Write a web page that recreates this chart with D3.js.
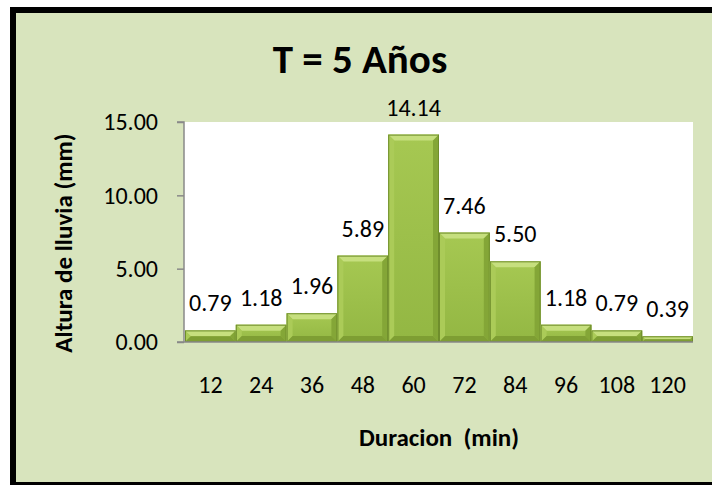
<!DOCTYPE html>
<html><head><meta charset="utf-8">
<script src="https://cdn.jsdelivr.net/npm/d3@7"></script>
<style>
html,body{margin:0;padding:0;background:#fff;}
svg{display:block;font-family:Carlito, Calibri, Lato, sans-serif;}
text{white-space:pre;}
</style></head>
<body>
<svg id="c" width="712" height="485"></svg>
<script>
const categories = ["12","24","36","48","60","72","84","96","108","120"];
const values = [0.79,1.18,1.96,5.89,14.14,7.46,5.50,1.18,0.79,0.39];
const yTicks = [0,5,10,15];
const title = "T = 5 Años";
const xTitle = "Duracion  (min)";
const yTitle = "Altura de lluvia (mm)";

const FONT = "Carlito, Calibri, Lato, sans-serif";
const svg = d3.select("#c");
// chart frame
svg.append("rect").attr("x",10).attr("y",7).attr("width",712).attr("height",478).attr("fill","#d8e4bd");
svg.append("rect").attr("x",13).attr("y",10).attr("width",712).attr("height",475).attr("fill","none").attr("stroke","#000").attr("stroke-width",6);

const plot = {l:184, r:693, t:122, b:342};
svg.append("rect").attr("x",plot.l).attr("y",plot.t).attr("width",plot.r-plot.l).attr("height",plot.b-plot.t).attr("fill","#fff");

const x = d3.scaleBand().domain(categories).range([plot.l+1, plot.r]).padding(0);
const y = d3.scaleLinear().domain([0,15]).range([plot.b, plot.t]);

const defs = svg.append("defs");
const g1 = defs.append("linearGradient").attr("id","face").attr("x1",0).attr("y1",0).attr("x2",0).attr("y2",1);
g1.append("stop").attr("offset","0%").attr("stop-color","#a6c852");
g1.append("stop").attr("offset","100%").attr("stop-color","#93b743");

const bars = svg.append("g");
categories.forEach((c,i)=>{
  const x0 = x(c), w = x.bandwidth(), y0 = y(values[i]), y1 = y(0), h = y1-y0;
  const b = Math.min(6, h/2, w/2);
  const g = bars.append("g");
  g.append("rect").attr("x",x0).attr("y",y0).attr("width",w).attr("height",h).attr("fill","url(#face)");
  g.append("polygon").attr("points",`${x0},${y0} ${x0+w},${y0} ${x0+w-b},${y0+b} ${x0+b},${y0+b}`).attr("fill","#c6df7e");
  g.append("polygon").attr("points",`${x0},${y0} ${x0+b},${y0+b} ${x0+b},${y1-b} ${x0},${y1}`).attr("fill","#abcb58");
  g.append("polygon").attr("points",`${x0+w},${y0} ${x0+w-b},${y0+b} ${x0+w-b},${y1-b} ${x0+w},${y1}`).attr("fill","#84a637");
  g.append("polygon").attr("points",`${x0},${y1} ${x0+b},${y1-b} ${x0+w-b},${y1-b} ${x0+w},${y1}`).attr("fill","#7e9e33");
  g.append("rect").attr("x",x0+0.5).attr("y",y0+0.5).attr("width",w-1).attr("height",h-1).attr("fill","none").attr("stroke","#6f8d2c").attr("stroke-width",1);
  svg.append("text").attr("x",x0+w/2).attr("y",y0-19).attr("text-anchor","middle")
    .attr("font-size",24).attr("fill","#000").text(values[i].toFixed(2));
});

// y axis
const ya = svg.append("g").attr("transform",`translate(${plot.l},0)`)
  .call(d3.axisLeft(y).tickValues(yTicks).tickFormat(d3.format(".2f")).tickSize(7).tickPadding(19));
ya.select(".domain").attr("stroke","#898989").attr("stroke-width",1.5).attr("d",`M-7,${plot.t}H0V${plot.b}`);
ya.selectAll(".tick line").attr("stroke","#898989").attr("stroke-width",1.5);
ya.selectAll(".tick text").attr("font-size",24).attr("fill","#000").attr("font-family",FONT);

// x axis
const xa = svg.append("g").attr("transform",`translate(0,${plot.b})`)
  .call(d3.axisBottom(x).tickSize(0).tickPadding(34));
xa.select(".domain").attr("stroke","#898989").attr("stroke-width",1.5).attr("d",`M${plot.l-7},0H${plot.r}`);
xa.selectAll(".tick text").attr("font-size",24).attr("fill","#000").attr("font-family",FONT);

svg.append("text").attr("x",360).attr("y",73).attr("text-anchor","middle").attr("font-size",41).attr("font-weight","bold").text(title);
svg.append("text").attr("x",439).attr("y",446).attr("text-anchor","middle").attr("font-size",25).attr("font-weight","bold").text(xTitle);
svg.append("text").attr("transform","translate(72,243) rotate(-90)").attr("text-anchor","middle").attr("font-size",25).attr("font-weight","bold").text(yTitle);
</script>
</body></html>
